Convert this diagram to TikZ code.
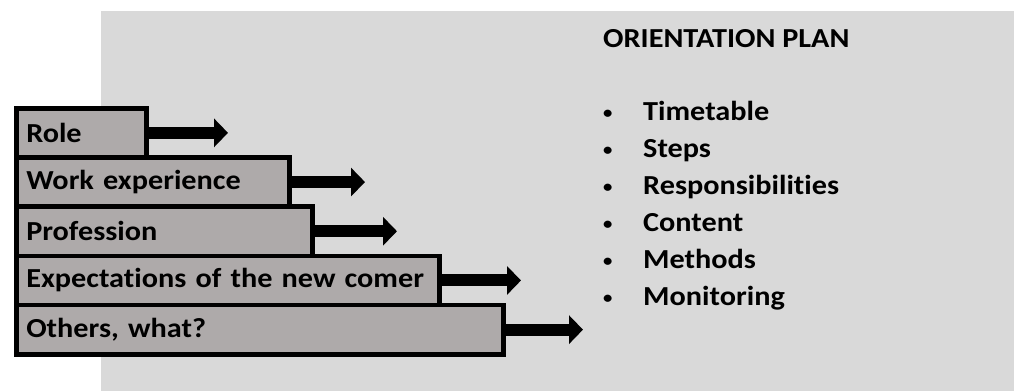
\documentclass[tikz,border=0pt]{standalone}
\usepackage{fontspec}
\setmainfont{Carlito}[Ligatures=NoCommon,FakeStretch=1.1]
\usetikzlibrary{arrows.meta}
\definecolor{panelgray}{HTML}{D9D9D9}
\definecolor{boxgray}{HTML}{AEAAAA}
\newcommand{\planbullet}{\makebox[40pt][l]{\raisebox{1.5pt}{\fontsize{17}{17}\selectfont\textbullet}}}

\begin{document}
\begin{tikzpicture}[x=1pt,y=-1pt,
	stepbox/.style={draw,line width=4.5pt,fill=boxgray,anchor=north west,minimum height=49.2pt,
		inner xsep=10pt,inner ysep=0pt,align=left,font=\bfseries\fontsize{27.5}{30}\selectfont},
	push/.style={line width=12pt,-{Triangle[length=14pt,width=28pt]}},
	plan/.style={anchor=base west,inner sep=0pt,font=\bfseries\fontsize{27.5}{30}\selectfont}]
	\useasboundingbox (0,0) rectangle (1014,391);
	\fill[panelgray] (101,11) rectangle (1014,391);

	% the stairs
	\node[stepbox,text width=110pt] at (14,106)   (role)   {Role};
	\node[stepbox,text width=253pt] at (14,155.2) (work)   {Work experience};
	\node[stepbox,text width=276pt] at (14,204.4) (prof)   {Profession};
	\node[stepbox,text width=403pt] at (14,253.6) (expect) {Expectations of the new comer};
	\node[stepbox,text width=467pt] at (14,302.8) (others) {Others, what?};

	\coordinate (roletip)   at (228,0);
	\coordinate (worktip)   at (365,0);
	\coordinate (proftip)   at (397,0);
	\coordinate (expecttip) at (521,0);
	\coordinate (otherstip) at (583,0);

	\draw[push] (role.east)   -- (role.east -| roletip);
	\draw[push] (work.east)   -- (work.east -| worktip);
	\draw[push] (prof.east)   -- (prof.east -| proftip);
	\draw[push] (expect.east) -- (expect.east -| expecttip);
	\draw[push] (others.east) -- (others.east -| otherstip);

	% the plan
	\node[plan] at (603,47)  (title)      {ORIENTATION PLAN};
	\node[plan] at (603,120) (timetable)  {\planbullet Timetable};
	\node[plan] at (603,157) (steps)      {\planbullet Steps};
	\node[plan] at (603,194) (resp)       {\planbullet Responsibilities};
	\node[plan] at (603,231) (content)    {\planbullet Content};
	\node[plan] at (603,268) (methods)    {\planbullet Methods};
	\node[plan] at (603,305) (monitoring) {\planbullet Monitoring};
\end{tikzpicture}
\end{document}
